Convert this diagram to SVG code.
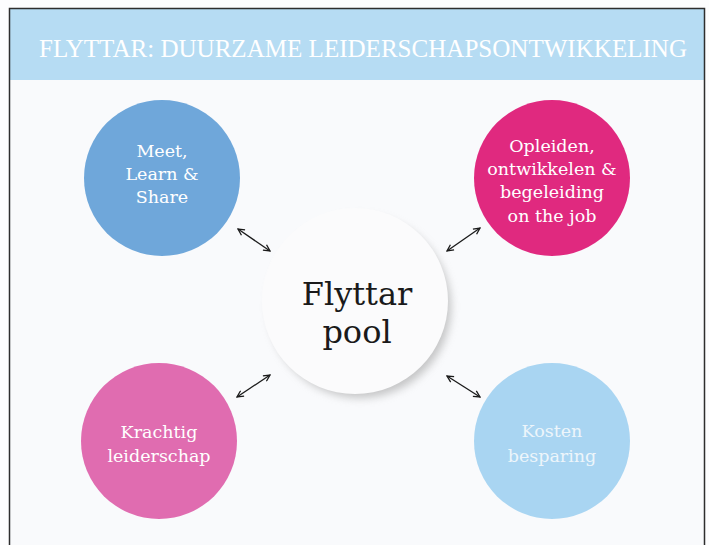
<svg xmlns="http://www.w3.org/2000/svg" width="709" height="545" viewBox="0 0 709 545">
  <style>
    .title { font-family: "Liberation Serif", "Times New Roman", serif; font-size: 25px; fill: #ffffff; }
    .ct { font-family: "DejaVu Serif", "Liberation Serif", serif; font-size: 17.5px; fill: #ffffff; text-anchor: middle; }
    .big { font-family: "DejaVu Serif", "Liberation Serif", serif; font-size: 32px; fill: #1a1a1a; text-anchor: middle; }
    .arr { stroke: #1a1a1a; stroke-width: 1.3; fill: none; marker-start: url(#ah); marker-end: url(#ah); }
  </style>
  <defs>
    <marker id="ah" viewBox="0 0 10 10" refX="9" refY="5" markerWidth="8" markerHeight="8" markerUnits="userSpaceOnUse" orient="auto-start-reverse">
      <path d="M1,1 L9,5 L1,9" fill="none" stroke="#1a1a1a" stroke-width="1.6"/>
    </marker>
    <filter id="shadow" x="-30%" y="-30%" width="160%" height="160%">
      <feGaussianBlur stdDeviation="4"/>
    </filter>
  </defs>
  <rect x="0" y="0" width="709" height="545" fill="#fdfdfe"/>
  <rect x="10" y="9" width="694" height="536" fill="#f9fafc"/>
  <rect x="10" y="9" width="694" height="71" fill="#b6dcf3"/>
  <path d="M9.5,545 L9.5,8.5 L704.5,8.5 L704.5,545" fill="none" stroke="#2e2e2e" stroke-width="1.5"/>
  <text class="title" x="39" y="57" textLength="648" lengthAdjust="spacingAndGlyphs">FLYTTAR: DUURZAME LEIDERSCHAPSONTWIKKELING</text>

  <g id="node-center">
    <circle cx="360" cy="307" r="91" fill="#9a9a9a" opacity="0.55" filter="url(#shadow)"/>
    <circle cx="355" cy="301" r="93" fill="#fbfbfc"/>
    <text class="big" x="357" y="305">Flyttar</text>
    <text class="big" x="357" y="343">pool</text>
  </g>

  <g id="node-meet">
    <circle cx="162" cy="178" r="78" fill="#6fa7da"/>
    <text class="ct" x="162" y="157">Meet,</text>
    <text class="ct" x="162" y="180">Learn &amp;</text>
    <text class="ct" x="162" y="203">Share</text>
  </g>

  <g id="node-opleiden">
    <circle cx="552" cy="178" r="78" fill="#e0297f"/>
    <text class="ct" x="552" y="152">Opleiden,</text>
    <text class="ct" x="552" y="175">ontwikkelen &amp;</text>
    <text class="ct" x="552" y="198">begeleiding</text>
    <text class="ct" x="552" y="222">on the job</text>
  </g>

  <g id="node-krachtig">
    <circle cx="159" cy="441" r="78" fill="#e06cb0"/>
    <text class="ct" x="159" y="438">Krachtig</text>
    <text class="ct" x="159" y="462">leiderschap</text>
  </g>

  <g id="node-kosten">
    <circle cx="552" cy="441" r="78" fill="#a9d5f2"/>
    <text class="ct" x="552" y="437" style="fill:#edf5fb">Kosten</text>
    <text class="ct" x="552" y="462" style="fill:#edf5fb">besparing</text>
  </g>

  <g id="connectors">
    <line class="arr" x1="238" y1="229" x2="270" y2="251"/>
    <line class="arr" x1="447" y1="251" x2="480" y2="228"/>
    <line class="arr" x1="237" y1="397" x2="270" y2="375"/>
    <line class="arr" x1="447" y1="376" x2="480" y2="397"/>
  </g>
</svg>
